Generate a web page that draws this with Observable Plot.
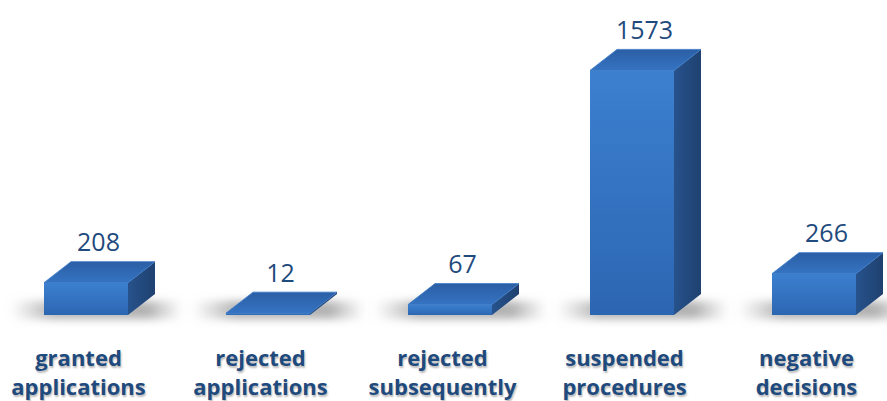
<!DOCTYPE html>
<html><head><meta charset="utf-8">
<script src="https://cdn.jsdelivr.net/npm/d3@7"></script>
<script src="https://cdn.jsdelivr.net/npm/@observablehq/plot@0.6"></script>
<style>
body{margin:0;background:#fff;overflow:hidden}
.cat text{ text-shadow: 1px 2px 2px rgba(0,0,0,0.28); }
</style></head>
<body><div id="chart"></div>
<script>
const categories = ["granted applications","rejected applications","rejected subsequently","suspended procedures","negative decisions"];
const values = [208, 12, 67, 1573, 266];
const data = categories.map((c, i) => ({category: c, value: values[i]}));

const DX = 27, DY = 21; // 3D depth offset (style)
const labelColor = "#1f4a7d";

function render3d(index, scales, ch, dims) {
  const bw = scales.x.bandwidth();
  const g = d3.create("svg:g");
  const defs = g.append("defs");
  const gf = defs.append("linearGradient").attr("id","gFront").attr("x1",0).attr("y1",0).attr("x2",0).attr("y2",1);
  gf.append("stop").attr("offset","0%").attr("stop-color","#3c80d0");
  gf.append("stop").attr("offset","100%").attr("stop-color","#2c66b2");
  const gs = defs.append("linearGradient").attr("id","gSide").attr("x1",0).attr("y1",0).attr("x2",1).attr("y2",0);
  gs.append("stop").attr("offset","0%").attr("stop-color","#27528c");
  gs.append("stop").attr("offset","100%").attr("stop-color","#1f4170");
  const gt = defs.append("linearGradient").attr("id","gTop").attr("x1",0).attr("y1",1).attr("x2",0).attr("y2",0);
  gt.append("stop").attr("offset","0%").attr("stop-color","#3573c2");
  gt.append("stop").attr("offset","100%").attr("stop-color","#2b5fa5");
  const gsh = defs.append("linearGradient").attr("id","gShadow").attr("x1",0).attr("y1",0).attr("x2",1).attr("y2",0);
  gsh.append("stop").attr("offset","0%").attr("stop-color","#aaa").attr("stop-opacity",0);
  gsh.append("stop").attr("offset","25%").attr("stop-color","#999").attr("stop-opacity",0.75);
  gsh.append("stop").attr("offset","80%").attr("stop-color","#999").attr("stop-opacity",0.75);
  gsh.append("stop").attr("offset","100%").attr("stop-color","#aaa").attr("stop-opacity",0);
  defs.append("filter").attr("id","blur").attr("x","-20%").attr("y","-100%").attr("width","140%").attr("height","300%")
    .append("feGaussianBlur").attr("stdDeviation",4);
  for (const i of index) {
    const x1 = ch.x[i], x2 = x1 + bw;
    const yb = Math.max(ch.y1[i], ch.y2[i]), yt = Math.min(ch.y1[i], ch.y2[i]);
    // floor shadow
    g.append("rect").attr("x", x1 - 34).attr("y", yb - 14).attr("width", bw + DX + 62).attr("height", 18)
      .attr("fill","url(#gShadow)").attr("filter","url(#blur)");
    // side face
    g.append("polygon").attr("points", [[x2,yt],[x2+DX,yt-DY],[x2+DX,yb-DY],[x2,yb]].map(p=>p.join(",")).join(" "))
      .attr("fill","url(#gSide)");
    // front face
    g.append("rect").attr("x", x1).attr("y", yt).attr("width", bw).attr("height", Math.max(0, yb - yt))
      .attr("fill","url(#gFront)");
    // top face
    g.append("polygon").attr("points", [[x1,yt],[x2,yt],[x2+DX,yt-DY],[x1+DX,yt-DY]].map(p=>p.join(",")).join(" "))
      .attr("fill","url(#gTop)").attr("stroke","#3a78c6").attr("stroke-width",0.8).attr("stroke-linejoin","round");
  }
  return g.node();
}

const chart = Plot.plot({
  width: 887, height: 401,
  marginLeft: 12, marginRight: 0, marginTop: 4, marginBottom: 86,
  style: {fontFamily: "'Open Sans', sans-serif", background: "#fff"},
  x: {domain: categories, paddingInner: 0.54, paddingOuter: 0.17, axis: null},
  y: {domain: [0, 2000], axis: null},
  marks: [
    Plot.barY(data, {x: "category", y: "value", render: render3d}),
    Plot.text(data, {x: "category", y: "value", text: d => String(d.value), dx: 12, dy: -32,
      lineAnchor: "bottom", fontSize: 25, fill: labelColor}),
    Plot.text(data, {x: "category", text: d => d.category.replace(" ", "\n"), frameAnchor: "bottom",
      dx: -8, dy: 30, lineAnchor: "top", lineHeight: 1.32, fontSize: 22, fontWeight: "bold",
      fill: labelColor, className: "cat"})
  ]
});
document.getElementById("chart").appendChild(chart);
</script></body></html>
